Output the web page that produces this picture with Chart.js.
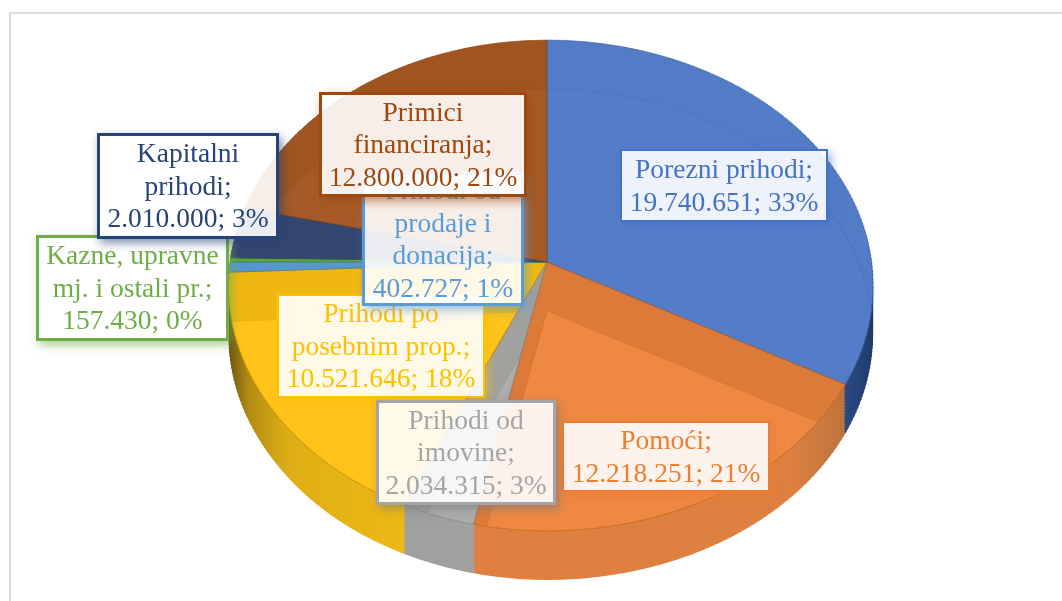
<!DOCTYPE html>
<html>
<head>
<meta charset="utf-8">
<script src="https://cdn.jsdelivr.net/npm/chart.js@4/dist/chart.umd.min.js"></script>
<style>
    html, body { margin: 0; background: #fff; overflow: hidden; }
    #wrap { position: relative; width: 1062px; height: 601px; overflow: hidden; }
    #frame { position: absolute; left: 9px; top: 12px; right: -4px; bottom: -4px; border-left: 2px solid #d9d9d9; border-top: 2px solid #dedede; }
    canvas { position: absolute; left: 0; top: 0; }
    .lbl {
        position: absolute; box-sizing: border-box; display: flex; align-items: center; justify-content: center;
        text-align: center; font-family: "Liberation Serif", serif; font-size: 27.5px; line-height: 32.5px;
        background: rgba(255, 255, 255, 0.9); border-style: solid; padding: 0 2px;
    }
</style>
</head>
<body>
<div id="wrap">
    <div id="frame"></div>
    <canvas id="pie" width="1062" height="601"></canvas>
</div>
<script>
const categories = ['Porezni prihodi', 'Pomoći', 'Prihodi od imovine', 'Prihodi po posebnim prop.', 'Prihodi od prodaje i donacija', 'Kazne, upravne mj. i ostali pr.', 'Kapitalni prihodi', 'Primici financiranja'];
const values = [19740651, 12218251, 2034315, 10521646, 402727, 157430, 2010000, 12800000];
const percents = [33, 21, 3, 18, 1, 0, 3, 21];

// office palette, used for the label text and border
const labelColors = ['#4472c4', '#ed7d31', '#a5a5a5', '#ffc000', '#5b9bd5', '#70ad47', '#264478', '#9e480e'];
const topColors = ['#537cc7', '#dc7a3a', '#a0a19e', '#efb811', '#5697cf', '#5ca63a', '#33466f', '#a05520'];
const floorColors = ['#547dc9', '#ee8843', '#adaeac', '#ffc31a', '#5697cf', '#5ca63a', '#33466f', '#a55a27'];
const edgeColors = ['#3d5f9f', '#c4661f', '#8a8a8a', '#c48a10', '#3d7ab0', '#4a8a2e', '#2a3a60', '#8a4a1a'];
const wallStops = [
    [[0, '#2f5597'], [0.9, '#2f5597'], [1, '#1f3864']],
    [[0, '#e18040'], [0.85, '#dd8040'], [0.96, '#b5703a'], [1, '#a86a38']],
    [[0, '#a0a0a0'], [1, '#a0a0a0']],
    [[0, '#5f4a10'], [0.05, '#b38d12'], [0.12, '#dfae16'], [0.3, '#eeb914'], [1, '#f4bd14']],
    [[0, '#5697cf'], [1, '#5697cf']],
    [[0, '#5ca63a'], [1, '#5ca63a']],
    [[0, '#33466f'], [1, '#33466f']],
    [[0, '#a05520'], [1, '#a05520']]
];
const backToFront = [7, 6, 5, 4, 3, 0, 2, 1];

// layout of the label boxes, same order as categories; z is the stacking
const labelBoxes = [
    {x: 620, y: 149, w: 208, h: 73, z: 5, b: 2},
    {x: 562, y: 421, w: 208, h: 71, z: 5, b: 2},
    {x: 376, y: 400, w: 180, h: 105, z: 5, b: 3},
    {x: 277, y: 294, w: 208, h: 104, z: 2, b: 2},
    {x: 362, y: 172, w: 162, h: 134, z: 3, b: 3},
    {x: 36, y: 235, w: 193, h: 106, z: 2, b: 3},
    {x: 97, y: 133, w: 182, h: 106, z: 4, b: 3},
    {x: 319, y: 92, w: 208, h: 105, z: 5, b: 3}
];
const shadows = ['#4472c4', '#ed7d31', '#777777', '#ffc000', '#5b9bd5', '#70ad47', '#264478', '#9e480e'];

// perspective of the pie on screen
const view = {cx: 547, cy: 262, tilt: 0.0957, scaleY: 243.2, rxLeft: 317, rxRight: 324.5, depth: 49, strip: 4};

function stripsOf(ctx, arc, dy, draw){
    const W = ctx.canvas.width;
    const R = arc.outerRadius;
    const toV = rel => rel / (view.scaleY + view.tilt * rel);
    const top = view.cy + dy - Math.round(view.scaleY / (1 + view.tilt)) - 2;
    const bottom = view.cy + dy + Math.round(view.scaleY / (1 - view.tilt)) + 2;
    for(let y = top; y < bottom; y += view.strip){
        const v0 = toV(y - view.cy - dy);
        const v1 = toV(y + view.strip - view.cy - dy);
        const d = view.strip / ((v1 - v0) * R);
        const f = y - d * (arc.y + v0 * R);
        const w = 1 - view.tilt * (v0 + v1) / 2;
        [[0, view.cx, view.rxLeft], [view.cx, W - view.cx, view.rxRight]].forEach(([x0, width, rx]) => {
            const a = rx / (w * R);
            ctx.save();
            ctx.beginPath();
            ctx.rect(x0, y, width, view.strip);
            ctx.clip();
            ctx.setTransform(a, 0, 0, d, view.cx - a * arc.x, f);
            draw();
            ctx.restore();
        });
    }
}

function paint(ctx, arc, opts){
    const saved = arc.options;
    arc.options = Object.assign({}, saved, opts);
    arc.draw(ctx);
    arc.options = saved;
}

const pie3d = {
    id: 'pie3d',
    beforeDatasetsDraw(chart){
        const ctx = chart.ctx;
        const arcs = chart.getDatasetMeta(0).data;
        const R = arcs[0].outerRadius;
        const x0 = arcs[0].x;

        // side walls, swept from the floor up to the top
        backToFront.forEach(i => {
            const grad = ctx.createLinearGradient(x0 - R, 0, x0 + R, 0);
            wallStops[i].forEach(s => grad.addColorStop(s[0], s[1]));
            for(let dy = view.depth; dy > 0; dy -= 3){
                stripsOf(ctx, arcs[i], dy, () => paint(ctx, arcs[i], {backgroundColor: grad, borderWidth: 0}));
            }
        });

        // top faces
        arcs.forEach((arc, i) => {
            stripsOf(ctx, arc, 0, () => paint(ctx, arc, {backgroundColor: topColors[i], borderWidth: 0}));
        });

        // floor of every slice seen through its own top
        const a = document.createElement('canvas');
        const b = document.createElement('canvas');
        a.width = b.width = chart.width;
        a.height = b.height = chart.height;
        const actx = a.getContext('2d');
        const bctx = b.getContext('2d');
        const throughTop = (arc, opts) => {
            actx.globalCompositeOperation = 'source-over';
            actx.clearRect(0, 0, a.width, a.height);
            bctx.clearRect(0, 0, b.width, b.height);
            stripsOf(actx, arc, view.depth, () => paint(actx, arc, opts));
            stripsOf(bctx, arc, 0, () => paint(bctx, arc, {backgroundColor: '#000', borderWidth: 0}));
            actx.globalCompositeOperation = 'destination-in';
            actx.drawImage(b, 0, 0);
            ctx.drawImage(a, 0, 0);
        };
        arcs.forEach((arc, i) => throughTop(arc, {backgroundColor: floorColors[i], borderWidth: 0}));

        // thin outlines: floor ring faintly, top edges stronger
        arcs.forEach((arc, i) => throughTop(arc, {backgroundColor: 'rgba(0,0,0,0)', borderColor: edgeColors[i] + '40', borderWidth: 1}));
        arcs.forEach((arc, i) => {
            stripsOf(ctx, arc, 0, () => paint(ctx, arc, {backgroundColor: 'rgba(0,0,0,0)', borderColor: edgeColors[i] + 'b0', borderWidth: 1}));
        });
        return false;
    }
};

new Chart(document.getElementById('pie'), {
    type: 'pie',
    data: {
        labels: categories,
        datasets: [{
            data: values,
            backgroundColor: topColors,
            borderWidth: 0
        }]
    },
    options: {
        responsive: false,
        animation: false,
        plugins: {
            legend: {display: false},
            tooltip: {enabled: false}
        }
    },
    plugins: [pie3d]
});

const fmt = n => String(n).replace(/\B(?=(\d{3})+$)/g, '.');

categories.forEach((name, i) => {
    const box = labelBoxes[i];
    const el = document.createElement('div');
    el.className = 'lbl';
    el.style.cssText = `left:${box.x}px;top:${box.y}px;width:${box.w}px;height:${box.h}px;z-index:${box.z};border-width:${box.b}px;` +
        `color:${labelColors[i]};border-color:${labelColors[i]};box-shadow:3px 4px 9px ${shadows[i]}99;`;
    el.textContent = name + '; ' + fmt(values[i]) + ';\u00a0' + percents[i] + '%';
    document.getElementById('wrap').appendChild(el);
});
</script>
</body>
</html>
